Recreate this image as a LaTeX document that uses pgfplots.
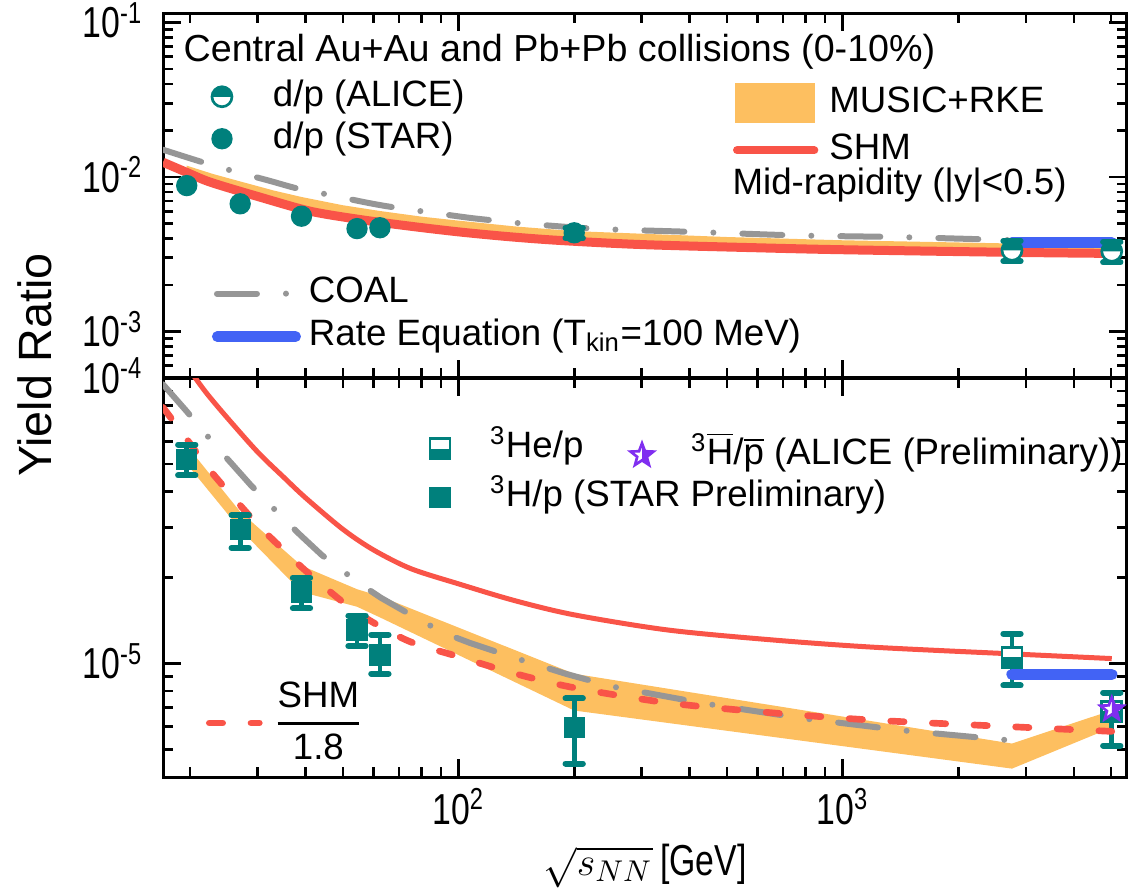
\documentclass[border=0pt]{standalone}
\usepackage{fontspec}
\setmainfont{Liberation Sans}
\newfontfamily\narrowfont[FakeStretch=0.78]{Liberation Sans}
\usepackage{amsmath}
\usepackage{pgfplots}
\pgfplotsset{compat=1.18}

\definecolor{dteal}{RGB}{0,128,124}
\definecolor{bandorange}{RGB}{253,191,96}
\definecolor{shmred}{RGB}{249,84,72}
\definecolor{coalgray}{RGB}{150,150,150}
\definecolor{rateblue}{RGB}{66,99,245}
\definecolor{starpurple}{RGB}{128,46,240}

% circle with upper half filled
\pgfdeclareplotmark{circletop}{%
  \begin{pgfscope}\pgfsetfillcolor{white}%
    \pgfpathcircle{\pgfpointorigin}{\pgfplotmarksize}\pgfusepath{fill}\end{pgfscope}%
  \pgfpathmoveto{\pgfqpoint{\pgfplotmarksize}{0pt}}%
  \pgfpatharc{0}{180}{\pgfplotmarksize}%
  \pgfpathclose\pgfusepath{fill}%
  \pgfpathcircle{\pgfpointorigin}{\pgfplotmarksize}\pgfusepath{stroke}}
% square with lower half filled
\pgfdeclareplotmark{squarebottom}{%
  \begin{pgfscope}\pgfsetfillcolor{white}%
    \pgfpathrectanglecorners{\pgfqpoint{-\pgfplotmarksize}{-\pgfplotmarksize}}{\pgfqpoint{\pgfplotmarksize}{\pgfplotmarksize}}\pgfusepath{fill}\end{pgfscope}%
  \pgfpathrectanglecorners{\pgfqpoint{-\pgfplotmarksize}{-\pgfplotmarksize}}{\pgfqpoint{\pgfplotmarksize}{0pt}}\pgfusepath{fill}%
  \pgfpathrectanglecorners{\pgfqpoint{-\pgfplotmarksize}{-\pgfplotmarksize}}{\pgfqpoint{\pgfplotmarksize}{\pgfplotmarksize}}\pgfusepath{stroke}}
% five point star, right half filled
\def\starpath{%
  \pgfpathmoveto{\pgfpointpolar{90}{\pgfplotmarksize}}%
  \pgfpathlineto{\pgfpointpolar{126}{0.42\pgfplotmarksize}}%
  \pgfpathlineto{\pgfpointpolar{162}{\pgfplotmarksize}}%
  \pgfpathlineto{\pgfpointpolar{198}{0.42\pgfplotmarksize}}%
  \pgfpathlineto{\pgfpointpolar{234}{\pgfplotmarksize}}%
  \pgfpathlineto{\pgfpointpolar{270}{0.42\pgfplotmarksize}}%
  \pgfpathlineto{\pgfpointpolar{306}{\pgfplotmarksize}}%
  \pgfpathlineto{\pgfpointpolar{342}{0.42\pgfplotmarksize}}%
  \pgfpathlineto{\pgfpointpolar{18}{\pgfplotmarksize}}%
  \pgfpathlineto{\pgfpointpolar{54}{0.42\pgfplotmarksize}}%
  \pgfpathclose}
\pgfdeclareplotmark{halfstar}{%
  \begin{pgfscope}\pgfsetfillcolor{white}\starpath\pgfusepath{fill}\end{pgfscope}%
  \begin{pgfscope}%
    \pgfpathrectanglecorners{\pgfqpoint{0pt}{-2\pgfplotmarksize}}{\pgfqpoint{2\pgfplotmarksize}{2\pgfplotmarksize}}\pgfusepath{clip}%
    \starpath\pgfusepath{fill}\end{pgfscope}%
  \starpath\pgfusepath{stroke}}

\newcommand{\legfont}{\fontsize{11}{13}\selectfont}
\newcommand{\tickfont}{\narrowfont\fontsize{13}{13}\selectfont}

\pgfplotsset{
  /pgfplots/mypanel/.style={
    /pgfplots/scale only axis, /pgfplots/width=289.2pt,
    /pgfplots/xmin=17, /pgfplots/xmax=5500,
    /pgfplots/xtick={100,1000},
    /pgfplots/minor xtick={20,30,40,50,60,70,80,90,200,300,400,500,600,700,800,900,2000,3000,4000,5000},
    /pgfplots/axis line style={line width=0.9pt},
    /pgfplots/every tick/.append style={line width=0.8pt, black},
    /pgfplots/major tick length=5.5pt, /pgfplots/minor tick length=3pt,
    /pgfplots/tick label style={font=\tickfont},
    /pgfplots/yticklabel style={anchor=base east, yshift=-4.6pt, xshift=-2.5pt},
  },
  /pgfplots/legax/.style={
    /pgfplots/scale only axis, /pgfplots/width=289.2pt, /pgfplots/hide axis,
    /pgfplots/xmin=0, /pgfplots/xmax=1, /pgfplots/ymin=0, /pgfplots/ymax=1,
    /pgfplots/legend cell align=left,
    /pgfplots/legend style={draw=none, fill=none, inner sep=0pt, outer sep=0pt,
      font=\legfont, anchor=north west,
      nodes={inner sep=0pt, text height=8pt, text depth=2.4pt}},
  },
  /pgfplots/markleg/.style={/pgfplots/legend image code/.code={%
      \path[draw=none] (0pt,0pt) -- (17pt,0pt);
      \path[mark repeat=2,mark phase=2,##1,draw=none] plot coordinates {(0pt,0pt) (8.5pt,0pt) (17pt,0pt)};}},
  /pgfplots/rectleg/.style={/pgfplots/legend image code/.code={%
      \fill[bandorange] (0pt,-5.7pt) rectangle (23.7pt,5.7pt);}},
  /pgfplots/shmleg/.style={/pgfplots/legend image code/.code={%
      \draw[##1] (0.6pt,0pt) -- (23.7pt,0pt);}},
  /pgfplots/coalleg/.style={/pgfplots/legend image code/.code={%
      \path[draw=none] (0pt,0pt) -- (25.5pt,0pt); \draw[##1] (0.9pt,0pt) -- (22.5pt,0pt);}},
  /pgfplots/rateleg/.style={/pgfplots/legend image code/.code={%
      \draw[##1] (1pt,0pt) -- (24.5pt,0pt);}},
  /pgfplots/dashleg/.style={/pgfplots/legend image code/.code={%
      \draw[##1] (1pt,0pt) -- (16pt,0pt);}},
}

\begin{document}
\begin{tikzpicture}
\useasboundingbox (0pt,0pt) rectangle (338.4pt,-266.7pt);

% ---------------- top panel: d/p ----------------
\begin{axis}[xmode=log, ymode=log, mypanel, at={(48.9pt,-113.4pt)}, anchor=south west, height=109.5pt,
  ymin=5e-4, ymax=0.115, ytick={1e-3,1e-2,1e-1},
  yticklabels={{10\textsuperscript{-3}},{10\textsuperscript{-2}},{10\textsuperscript{-1}}},
  minor ytick={6e-4,7e-4,8e-4,9e-4,2e-3,3e-3,4e-3,5e-3,6e-3,7e-3,8e-3,9e-3,2e-2,3e-2,4e-2,5e-2,6e-2,7e-2,8e-2,9e-2},
  xticklabels={,,},
]
% MUSIC+RKE band
\addplot[fill=bandorange, draw=none, forget plot] coordinates {
  (19.6,1.1825e-2)(23,1.0428e-2)(27,9.353e-3)(33,8.17e-3)(39,7.418e-3)(50,6.558e-3)(62.4,6.02e-3)(80,5.536e-3)
  (100,5.214e-3)(140,4.784e-3)(200,4.461e-3)(500,4.085e-3)(1000,3.892e-3)(2760,3.709e-3)(5020,3.601e-3)
  (5020,3.116e-3)(2760,3.209e-3)(1000,3.367e-3)(500,3.535e-3)(200,3.86e-3)(140,4.14e-3)(100,4.512e-3)
  (80,4.791e-3)(62.4,5.209e-3)(50,5.674e-3)(39,6.419e-3)(33,7.07e-3)(27,8.093e-3)(23,9.023e-3)(19.6,1.0233e-2)};
% error bars (STAR 200 GeV, ALICE)
\addplot[dteal, line width=1.4pt, mark=-, mark size=2.6pt, mark options={line width=1.8pt, line cap=round},
  unbounded coords=jump, forget plot] coordinates {
  (200,4.0e-3)(200,4.7e-3)(nan,nan)(2760,2.85e-3)(2760,3.85e-3)(nan,nan)(5020,2.8e-3)(5020,3.8e-3)};
% d/p STAR
\addplot[only marks, mark=*, mark size=3pt, mark options={draw=dteal, fill=dteal}, forget plot] coordinates {
  (19.6,8.79e-3)(27,6.7e-3)(39,5.57e-3)(54.4,4.63e-3)(62.4,4.69e-3)(200,4.35e-3)};
% d/p ALICE
\addplot[only marks, mark=circletop, mark size=3pt, mark options={draw=dteal, fill=dteal, line width=0.8pt}, forget plot] coordinates {
  (2760,3.35e-3)(5020,3.3e-3)};
% COAL
\addplot[coalgray, line width=1.8pt, line cap=round, dash pattern=on 12pt off 8.7pt on 0pt off 8.7pt, smooth, forget plot] coordinates {
  (17,1.5e-2)(21,1.27e-2)(24.6,1.13e-2)(31.9,9.5e-3)(37.8,8.45e-3)(44.4,7.8e-3)(58,6.8e-3)(68,6.35e-3)(80,6.0e-3)
  (106,5.45e-3)(126,5.2e-3)(147,5.0e-3)(228,4.62e-3)(418,4.4e-3)(770,4.18e-3)(1410,4.08e-3)(2760,3.9e-3)};
% SHM
\addplot[shmred, line width=2.7pt, smooth, forget plot] coordinates {
  (17,1.245e-2)(19.6,1.07e-2)(22.6,9.24e-3)(30.4,7.4e-3)(41.1,6.0e-3)(55.4,5.3e-3)(74.8,4.8e-3)(100.9,4.4e-3)
  (136,4.1e-3)(184,3.88e-3)(300,3.65e-3)(600,3.48e-3)(1000,3.38e-3)(2760,3.25e-3)(5020,3.2e-3)};
% Rate equation
\addplot[rateblue, line width=3.4pt, line cap=round, forget plot] coordinates {(2760,3.75e-3)(5020,3.75e-3)};
\end{axis}

% ---------------- bottom panel: A=3 ----------------
\begin{axis}[xmode=log, ymode=log, mypanel, at={(48.9pt,-233.1pt)}, anchor=south west, height=119.7pt,
  ymin=4e-6, ymax=1e-4, ytick={1e-5,1e-4},
  yticklabels={{10\textsuperscript{-5}},{10\textsuperscript{-4}}},
  minor ytick={5e-6,6e-6,7e-6,8e-6,9e-6,2e-5,3e-5,4e-5,5e-5,6e-5,7e-5,8e-5,9e-5},
  xticklabels={{10\textsuperscript{2}},{10\textsuperscript{3}}},
  xlabel={$\sqrt{s_{NN}}$\,[GeV]},
  xlabel style={at={(axis description cs:0.5,-0.223)}, anchor=center, font=\tickfont},
]
% MUSIC+RKE band
\addplot[fill=bandorange, draw=none, forget plot] coordinates {
  (19.6,5.8e-5)(27,3.4e-5)(39,2.2e-5)(54.4,1.82e-5)(62.4,1.72e-5)(200,9.2e-6)(2760,5.24e-6)(5020,6.85e-6)
  (5020,5.96e-6)(2760,4.28e-6)(200,6.84e-6)(62.4,1.45e-5)(54.4,1.58e-5)(39,1.78e-5)(27,2.95e-5)(19.6,5.0e-5)};
% COAL
\addplot[coalgray, line width=1.8pt, line cap=round, dash pattern=on 12pt off 8.7pt on 0pt off 8.7pt, forget plot] coordinates {
  (17,9.5e-5)(19.6,7.64e-5)(23.2,5.83e-5)(25.9,4.94e-5)(28.7,4.23e-5)(34.6,3.27e-5)(38.8,2.81e-5)(44,2.4e-5)
  (54.8,1.92e-5)(62.7,1.7e-5)(72.5,1.52e-5)(91.3,1.28e-5)(107,1.18e-5)(138.7,1.05e-5)(190,9.2e-6)(251,8.3e-6)
  (436,7.24e-6)(795,6.41e-6)(1442,5.82e-6)(2760,5.37e-6)};
% error bars
\addplot[dteal, line width=1.4pt, mark=-, mark size=2.6pt, mark options={line width=1.8pt, line cap=round},
  unbounded coords=jump, forget plot] coordinates {
  (19.6,4.56e-5)(19.6,5.84e-5)(nan,nan)(27,2.54e-5)(27,3.31e-5)(nan,nan)(39,1.56e-5)(39,2.0e-5)(nan,nan)
  (54.4,1.15e-5)(54.4,1.47e-5)(nan,nan)(62.4,9.2e-6)(62.4,1.26e-5)(nan,nan)(200,4.46e-6)(200,7.54e-6)(nan,nan)
  (2760,8.37e-6)(2760,1.27e-5)(nan,nan)(5020,5.15e-6)(5020,7.9e-6)};
% 3H/p STAR Preliminary
\addplot[only marks, mark=square*, mark size=3pt, mark options={draw=dteal, fill=dteal}, forget plot] coordinates {
  (19.6,5.17e-5)(27,2.94e-5)(39,1.78e-5)(54.4,1.31e-5)(62.4,1.07e-5)(200,5.96e-6)};
% 3He/p ALICE
\addplot[only marks, mark=squarebottom, mark size=3pt, mark options={draw=dteal, fill=dteal, line width=0.8pt}, forget plot] coordinates {
  (2760,1.05e-5)(5020,6.79e-6)};
% SHM/1.8
\addplot[shmred, line width=2pt, line cap=round, dash pattern=on 4pt off 8.5pt, smooth, forget plot] coordinates {
  (17,7.89e-5)(19.6,6.11e-5)(22,4.94e-5)(25,4.03e-5)(30,3.06e-5)(35,2.5e-5)(40,2.11e-5)(50,1.64e-5)(60,1.39e-5)
  (75,1.19e-5)(100,1.056e-5)(140,9.22e-6)(200,8.22e-6)(350,7.28e-6)(650,6.72e-6)(1200,6.33e-6)(2760,6.0e-6)(5020,5.78e-6)};
% SHM
\addplot[shmred, line width=1.5pt, smooth, forget plot] coordinates {
  (17,1.42e-4)(19.6,1.10e-4)(22,8.9e-5)(25,7.25e-5)(30,5.5e-5)(35,4.5e-5)(40,3.8e-5)(50,2.95e-5)(60,2.5e-5)
  (75,2.15e-5)(100,1.9e-5)(140,1.66e-5)(200,1.48e-5)(350,1.31e-5)(650,1.21e-5)(1200,1.14e-5)(2760,1.08e-5)(5020,1.04e-5)};
% Rate equation
\addplot[rateblue, line width=3.4pt, line cap=round, forget plot] coordinates {(2760,9.15e-6)(5020,9.15e-6)};
% anti-3H / anti-p ALICE Preliminary
\addplot[only marks, mark=halfstar, mark size=3.6pt, mark options={draw=starpurple, fill=starpurple, line width=0.8pt}, forget plot] coordinates {
  (5020,6.9e-6)};
\end{axis}

% ---------------- legends (top panel) ----------------
\begin{axis}[legax, at={(48.9pt,-113.4pt)}, anchor=south west, height=109.5pt,
  legend style={at={(0.0318,0.818)}, row sep=2.2pt, column sep=6.8pt}]
\addlegendimage{only marks, mark=circletop, mark size=3pt, mark options={draw=dteal, fill=dteal, line width=0.8pt}, markleg}
\addlegendentry{d/p (ALICE)}
\addlegendimage{only marks, mark=*, mark size=3pt, mark options={draw=dteal, fill=dteal}, markleg}
\addlegendentry{d/p (STAR)}
\end{axis}
\begin{axis}[legax, at={(48.9pt,-113.4pt)}, anchor=south west, height=109.5pt,
  legend style={at={(0.5913,0.8074)}, row sep=3.1pt, column sep=3.3pt}]
\addlegendimage{rectleg}
\addlegendentry{MUSIC+RKE}
\addlegendimage{shmred, line width=2.5pt, line cap=round, shmleg}
\addlegendentry{SHM}
\end{axis}
\begin{axis}[legax, at={(48.9pt,-113.4pt)}, anchor=south west, height=109.5pt,
  legend style={at={(0.0508,0.2786)}, row sep=2.5pt, column sep=2.4pt}]
\addlegendimage{coalgray, line width=1.8pt, line cap=round, dash pattern=on 12pt off 8.7pt on 0pt off 8.7pt, coalleg}
\addlegendentry{COAL}
\addlegendimage{rateblue, line width=3.2pt, line cap=round, rateleg}
\addlegendentry{Rate Equation (T\textsubscript{kin}=100 MeV)}
\end{axis}

% ---------------- legends (bottom panel) ----------------
\begin{axis}[legax, at={(48.9pt,-233.1pt)}, anchor=south west, height=119.7pt,
  legend style={at={(0.258,0.8664)}, row sep=4.3pt, column sep=6.5pt}]
\addlegendimage{only marks, mark=squarebottom, mark size=3pt, mark options={draw=dteal, fill=dteal, line width=0.8pt}, markleg}
\addlegendentry{\textsuperscript{3}He/p}
\addlegendimage{only marks, mark=square*, mark size=3pt, mark options={draw=dteal, fill=dteal}, markleg}
\addlegendentry{\textsuperscript{3}H/p (STAR Preliminary)}
\end{axis}
\begin{axis}[legax, at={(48.9pt,-233.1pt)}, anchor=south west, height=119.7pt,
  legend style={at={(0.4675,0.8664)}, column sep=6.2pt}]
\addlegendimage{only marks, mark=halfstar, mark size=3.6pt, mark options={draw=starpurple, fill=starpurple, line width=0.8pt}, markleg}
\addlegendentry{\textsuperscript{3}$\overline{\mbox{H}}$/$\overline{\mbox{p}}$ (ALICE (Preliminary))}
\end{axis}
\begin{axis}[legax, at={(48.9pt,-233.1pt)}, anchor=south west, height=119.7pt,
  legend style={at={(0.0446,0.1353)}, anchor=west, column sep=3.3pt, nodes={inner sep=0pt}}]
\addlegendimage{shmred, line width=2pt, line cap=round, dash pattern=on 4pt off 8.5pt, dashleg}
\addlegendentry{$\genfrac{}{}{0.9pt}{0}{\text{SHM}}{\text{1.8}}$}
\end{axis}

% ---------------- free text ----------------
\node[anchor=base west, font=\fontsize{11.3}{13}\selectfont, inner sep=0pt] at (54.9pt,-18.6pt)
  {Central Au+Au and Pb+Pb collisions (0-10\%)};
\node[anchor=base west, font=\legfont, inner sep=0pt] at (219.6pt,-58.5pt) {Mid-rapidity (|y|<0.5)};
\node[rotate=90, font=\fontsize{14}{14}\selectfont] at (10.5pt,-109.5pt) {Yield Ratio};
\end{tikzpicture}
\end{document}
